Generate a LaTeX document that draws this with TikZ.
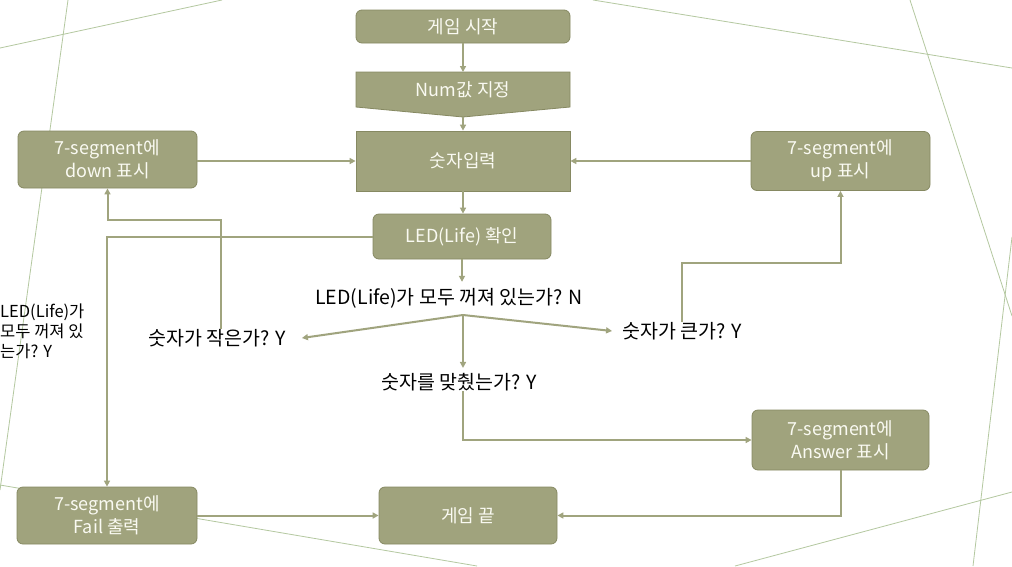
\documentclass[tikz,border=0pt]{standalone}
\usepackage{fontspec}
\setmainfont{Noto Sans CJK KR}
\usetikzlibrary{arrows.meta,calc}
\definecolor{boxfill}{HTML}{A0A37D}
\definecolor{boxline}{HTML}{868962}
\definecolor{arrc}{HTML}{A0A47E}
\definecolor{decoc}{HTML}{B4C8A0}
\definecolor{boxtext}{HTML}{FAFAF2}
\begin{document}
\begin{tikzpicture}[x=1pt,y=-1pt,
  font=\fontsize{18}{23}\selectfont,
  box/.style={draw=boxline, line width=0.8pt, fill=boxfill, text=boxtext, rounded corners=6pt, align=center, inner sep=0pt},
  sqbox/.style={box, rounded corners=0pt},
  arr/.style={draw=arrc, line width=2pt, -{Triangle[length=6pt,width=6pt]}},
  decoline/.style={draw=decoc, line width=0.8pt},
  lbl/.style={text=black, inner sep=0pt, font=\fontsize{19.5}{24}\selectfont}]
\fill[white] (0,0) rectangle (1012,566);
\useasboundingbox (0,0) rectangle (1012,566);
% decorative lines
\draw[decoline] (0,48) -- (222,0);
\draw[decoline] (68,0) -- (0,490);
\draw[decoline] (0,485) -- (477,566);
\draw[decoline] (1012,492) -- (735,566);
\draw[decoline] (910,0) -- (1012,316);
\draw[decoline] (1012,237) -- (973,566);
\draw[decoline] (593,0) -- (1012,68);
% boxes
\node[box, minimum width=214, minimum height=33] (start) at (463,26.5) {게임 시작};
\path[fill=boxfill, draw=boxline, line width=0.8pt] (356,72) -- (570,72) -- (570,107) -- (463,117) -- (356,107) -- cycle;
\node[text=boxtext, inner sep=0pt] (num) at (463,90) {Num값 지정};
\coordinate (numtop) at (463,72);
\coordinate (numbot) at (463,117);
\node[sqbox, minimum width=214, minimum height=60] (input) at (463,161) {숫자입력};
\node[box, minimum width=178, minimum height=45] (ledchk) at (462,236.5) {LED(Life) 확인};
\node[box, minimum width=179, minimum height=57] (down) at (107.5,159.5) {7-segment에\\down 표시};
\node[box, minimum width=179, minimum height=59] (up) at (840.5,161) {7-segment에\\up 표시};
\node[box, minimum width=177, minimum height=60] (answer) at (840.5,440) {7-segment에\\Answer 표시};
\node[box, minimum width=180, minimum height=57] (fail) at (107,515.5) {7-segment에\\Fail 출력};
\node[box, minimum width=178, minimum height=57] (gend) at (468,515.5) {게임 끝};
% labels
\node[lbl] (qN) at (449,298) {LED(Life)가 모두 꺼져 있는가? N};
\node[lbl] (qS) at (217,338) {숫자가 작은가? Y};
\node[lbl] (qB) at (682,331) {숫자가 큰가? Y};
\node[lbl] (qC) at (459,382) {숫자를 맞췄는가? Y};
\node[lbl, anchor=west, align=left, font=\fontsize{16.5}{20}\selectfont] (qL) at (0,331) {LED(Life)가\\모두 꺼져 있\\는가? Y};
\coordinate (split) at (463,315);
\coordinate (yS) at (0,220);
\coordinate (yB) at (0,263);
% connectors
\draw[arr] (start.south) -- (numtop);
\draw[arr] (numbot) -- (input.north);
\draw[arr] (input.south) -- (input.south |- ledchk.north);
\draw[arr] (input.west -| down.east) -- (input.west);
\draw[arr] (up.west) -- (up.west -| input.east);
\draw[arr] (ledchk.south) -- ($(ledchk.south |- qN.north)+(0,-6)$);
\draw[arr] (split) -- ($(qS.east)+(16,0)$);
\draw[arr] (split) -- ($(qB.west)+(-10,0)$);
\draw[arr] (split) -- ($(split |- qC.north)+(0,-5)$);
\draw[arr] ([xshift=4pt]qS.north) |- (down.south |- yS) -- (down.south);
\draw[arr] (qB.north) |- (up.south |- yB) -- (up.south);
\draw[arr] (split |- qC.south) |- (answer.west);
\draw[arr] (answer.south) |- (gend.east);
\draw[arr] (fail.east) -- (gend.west);
\draw[arr] (ledchk.west) -| (fail.north);
\end{tikzpicture}
\end{document}
